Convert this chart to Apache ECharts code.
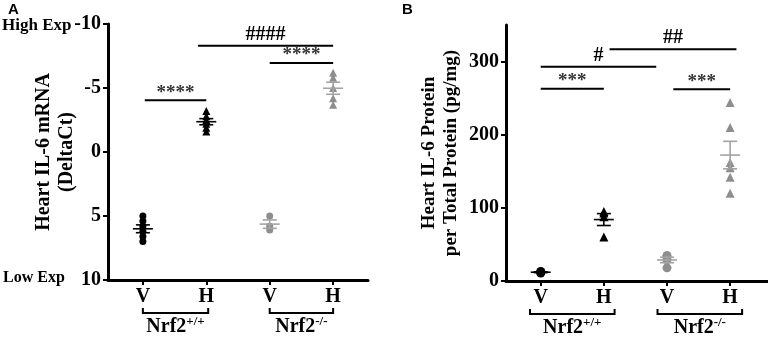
<!DOCTYPE html>
<html>
<head>
<meta charset="utf-8">
<script src="https://cdn.jsdelivr.net/npm/echarts@6/dist/echarts.min.js"></script>
<style>
  html, body { margin: 0; padding: 0; background: #fff; }
  #main { width: 768px; height: 338px; }
</style>
</head>
<body>
<div id="main"></div>
<script>
// x categories (position 0..3)
const treatments = ["V", "H", "V", "H"];

// A: Heart IL-6 mRNA (DeltaCt), y axis inverted
const dctWtV = [5.0, 5.4, 5.8, 6.2, 6.6, 7.0];
const dctWtH = [-3.2, -2.8, -2.5, -2.2, -1.9, -1.6];
const dctKoV = [5.0, 5.8, 6.1];
const dctKoH = [-6.2, -5.8, -5.0, -4.2, -3.7];

// B: Heart IL-6 protein (pg/mg)
const protWtV = [11, 12, 13];
const protWtH = [60, 88, 93, 95];
const protKoV = [18, 29, 33, 35];
const protKoH = [244, 210, 162, 155, 142, 120];

// significance bars: [from, to, y, label]
const sigA = [
  [0.03, 1.0, -4.05, "****"],
  [0.87, 3.0, -8.3, "####"],
  [2.0, 3.0, -6.95, "****"]
];
const sigB = [
  [0.0, 1.0, 263, "***"],
  [0.0, 1.83, 293, "#"],
  [1.09, 3.1, 317, "##"],
  [2.1, 3.0, 262, "***"]
];

// genotype brackets: [from, to, genotype superscript]
const bracketsA = [[0, 1.03, "+/+"], [2.0, 3.0, "-/-"]];
const bracketsB = [[-0.17, 1.17, "+/+"], [1.85, 3.19, "-/-"]];

const BLACK = "#000";
const GREY = "#8e8e8e";
const GREY_BAR = "#a3a3a3";
const SERIF = "'Liberation Serif', 'Times New Roman', serif";

function meanSem(arr) {
  const n = arr.length;
  const m = arr.reduce((a, b) => a + b, 0) / n;
  const sd = Math.sqrt(arr.reduce((a, b) => a + (b - m) * (b - m), 0) / (n - 1));
  return [m, sd / Math.sqrt(n)];
}

function pointSeries(idx, x, arr, color, symbol, size) {
  return {
    type: "scatter",
    xAxisIndex: idx,
    yAxisIndex: idx,
    symbol: symbol,
    symbolSize: size,
    itemStyle: { color: color, opacity: 1 },
    data: arr.map((v) => [x, v]),
    z: 3
  };
}

function errorSeries(idx, groups) {
  return {
    type: "custom",
    xAxisIndex: idx,
    yAxisIndex: idx,
    z: 4,
    clip: false,
    data: groups.map((g) => {
      const ms = meanSem(g.values);
      return [g.x, ms[0], ms[1]];
    }),
    renderItem(params, api) {
      const x = api.value(0);
      const m = api.value(1);
      const s = api.value(2);
      const color = groups[params.dataIndex].color;
      const c = api.coord([x, m]);
      const hi = api.coord([x, m + s]);
      const lo = api.coord([x, m - s]);
      const st = { stroke: color, lineWidth: 1.6 };
      return {
        type: "group",
        children: [
          { type: "line", shape: { x1: c[0] - 10, y1: c[1], x2: c[0] + 10, y2: c[1] }, style: st },
          { type: "line", shape: { x1: hi[0] - 7, y1: hi[1], x2: hi[0] + 7, y2: hi[1] }, style: st },
          { type: "line", shape: { x1: lo[0] - 7, y1: lo[1], x2: lo[0] + 7, y2: lo[1] }, style: st },
          { type: "line", shape: { x1: c[0], y1: hi[1], x2: c[0], y2: lo[1] }, style: st }
        ]
      };
    }
  };
}

function sigSeries(idx, bars) {
  return {
    type: "custom",
    xAxisIndex: idx,
    yAxisIndex: idx,
    clip: false,
    z: 5,
    data: bars.map((b) => [b[0], b[1], b[2]]),
    renderItem(params, api) {
      const b = bars[params.dataIndex];
      const p1 = api.coord([b[0], b[2]]);
      const p2 = api.coord([b[1], b[2]]);
      const star = b[3].indexOf("*") >= 0;
      return {
        type: "group",
        children: [
          { type: "line", shape: { x1: p1[0], y1: p1[1], x2: p2[0], y2: p1[1] }, style: { stroke: BLACK, lineWidth: 2 } },
          {
            type: "text",
            style: {
              text: b[3],
              x: (p1[0] + p2[0]) / 2,
              y: p1[1] + (star ? 2 : -1),
              align: "center",
              verticalAlign: "bottom",
              font: "bold " + (star ? 19 : 20) + "px " + SERIF,
              fill: star ? "#333" : BLACK
            }
          }
        ]
      };
    }
  };
}

function bracketSeries(idx, brackets, yBase) {
  return {
    type: "custom",
    xAxisIndex: idx,
    yAxisIndex: idx,
    clip: false,
    silent: true,
    data: brackets.map((b) => [b[0], b[1]]),
    renderItem(params, api) {
      const b = brackets[params.dataIndex];
      const p1 = api.coord([b[0], yBase]);
      const p2 = api.coord([b[1], yBase]);
      const top = p1[1] + 28;
      const bot = top + 5;
      const st = { stroke: BLACK, lineWidth: 2, fill: null };
      return {
        type: "group",
        children: [
          {
            type: "polyline",
            shape: { points: [[p1[0], top], [p1[0], bot], [p2[0], bot], [p2[0], top]] },
            style: st
          },
          {
            type: "text",
            style: {
              text: "{b|Nrf2}{s|" + b[2] + "}",
              x: (p1[0] + p2[0]) / 2,
              y: bot + 2,
              align: "center",
              verticalAlign: "top",
              rich: {
                b: { fontFamily: SERIF, fontWeight: "bold", fontSize: 20, fill: BLACK },
                s: { fontFamily: SERIF, fontWeight: "bold", fontSize: 13, fill: BLACK, padding: [0, 0, 10, 0] }
              }
            }
          }
        ]
      };
    }
  };
}

const axisText = { color: BLACK, fontFamily: SERIF, fontWeight: "bold", fontSize: 20 };

function xAxisFor(idx, max) {
  return {
    type: "value",
    gridIndex: idx,
    min: -0.55,
    max: max,
    splitLine: { show: false },
    axisLine: { onZero: false, lineStyle: { color: BLACK, width: 3 } },
    axisTick: { customValues: [0, 1, 2, 3], length: 5, lineStyle: { color: BLACK, width: 2 } },
    axisLabel: Object.assign({}, axisText, {
      customValues: [0, 1, 2, 3],
      margin: 7,
      formatter: (v) => treatments[Math.round(v)]
    })
  };
}

const option = {
  animation: false,
  backgroundColor: "#fff",
  grid: [
    { left: 108, top: 24, width: 260, height: 256 },
    { left: 506, top: 25, width: 262, height: 256 }
  ],
  xAxis: [xAxisFor(0, 3.55), xAxisFor(1, 3.6)],
  yAxis: [
    {
      type: "value",
      gridIndex: 0,
      inverse: true,
      min: -10,
      max: 10,
      interval: 5,
      splitLine: { show: false },
      axisLine: { onZero: false, lineStyle: { color: BLACK, width: 3 } },
      axisTick: { length: 5, lineStyle: { color: BLACK, width: 2 } },
      axisLabel: Object.assign({}, axisText, { margin: 7 }),
      name: "Heart IL-6 mRNA\n(DeltaCt)",
      nameLocation: "middle",
      nameGap: 30,
      nameMoveOverlap: false,
      nameTextStyle: { color: BLACK, fontFamily: SERIF, fontWeight: "bold", fontSize: 20, lineHeight: 23 }
    },
    {
      type: "value",
      gridIndex: 1,
      min: 0,
      max: 350,
      splitLine: { show: false },
      axisLine: { onZero: false, lineStyle: { color: BLACK, width: 3 } },
      axisTick: { customValues: [0, 100, 200, 300], length: 5, lineStyle: { color: BLACK, width: 2 } },
      axisLabel: Object.assign({}, axisText, { margin: 7, customValues: [0, 100, 200, 300] }),
      name: "Heart IL-6 Protein\nper Total Protein (pg/mg)",
      nameLocation: "middle",
      nameGap: 44,
      nameTextStyle: { color: BLACK, fontFamily: SERIF, fontWeight: "bold", fontSize: 19, lineHeight: 22 }
    }
  ],
  graphic: [
    { type: "text", left: 8, top: 2, style: { text: "A", font: "bold 15px Arial, 'Liberation Sans', sans-serif", fill: BLACK } },
    { type: "text", left: 402, top: 2, style: { text: "B", font: "bold 15px Arial, 'Liberation Sans', sans-serif", fill: BLACK } },
    { type: "text", left: 2, top: 17, style: { text: "High Exp", font: "bold 17px " + SERIF, fill: BLACK } },
    { type: "text", left: 3, top: 270, style: { text: "Low Exp", font: "bold 16px " + SERIF, fill: BLACK } }
  ],
  series: [
    pointSeries(0, 0, dctWtV, BLACK, "circle", 7),
    pointSeries(0, 1, dctWtH, BLACK, "triangle", 8),
    pointSeries(0, 2, dctKoV, GREY, "circle", 7),
    pointSeries(0, 3, dctKoH, GREY, "triangle", 8),
    errorSeries(0, [
      { x: 0, values: dctWtV, color: BLACK },
      { x: 1, values: dctWtH, color: BLACK },
      { x: 2, values: dctKoV, color: GREY_BAR },
      { x: 3, values: dctKoH, color: GREY_BAR }
    ]),
    sigSeries(0, sigA),
    bracketSeries(0, bracketsA, 10),

    pointSeries(1, 0, protWtV, BLACK, "circle", 9),
    pointSeries(1, 1, protWtH, BLACK, "triangle", 9),
    pointSeries(1, 2, protKoV, GREY, "circle", 9),
    pointSeries(1, 3, protKoH, GREY, "triangle", 9),
    errorSeries(1, [
      { x: 0, values: protWtV, color: BLACK },
      { x: 1, values: protWtH, color: BLACK },
      { x: 2, values: protKoV, color: GREY_BAR },
      { x: 3, values: protKoH, color: GREY_BAR }
    ]),
    sigSeries(1, sigB),
    bracketSeries(1, bracketsB, 0)
  ]
};

const chart = echarts.init(document.getElementById("main"), null, { renderer: "canvas" });
chart.setOption(option);
</script>
</body>
</html>
